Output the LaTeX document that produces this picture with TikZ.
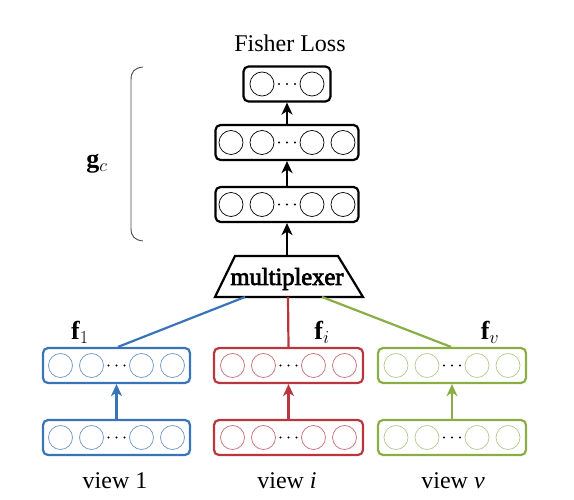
\RequirePackage{fix-cm}
\documentclass[tikz,border=0pt]{standalone}
\usepackage{fontspec}
\setmainfont{Liberation Serif}
\newfontfamily\muxfont[FakeBold=3]{Liberation Serif}
\usetikzlibrary{arrows.meta,calc}
\definecolor{vblue}{RGB}{58,116,184}
\definecolor{vred}{RGB}{184,55,62}
\definecolor{vgreen}{RGB}{138,174,69}
\definecolor{cblue}{RGB}{112,150,200}
\definecolor{cred}{RGB}{200,110,116}
\definecolor{cgreen}{RGB}{182,200,140}
\newcommand{\layerfour}[6]{% name, x, y, width, boxcolor, circlecolor
  \node[layerbox, draw=#5, minimum width=#4pt] (#1) at (#2,#3) {};
  \foreach \dx [count=\k] in {-56,-25,25,56}
    \node[neuron, draw=#6] (#1c\k) at (#2+\dx,#3) {};
  \foreach \dx in {-8,0,8}
    \fill (#2+\dx,#3) circle (1.2pt);
}
\begin{document}
\begin{tikzpicture}[x=1pt,y=-1pt,
  layerbox/.style={draw, line width=2.2pt, rounded corners=5pt, minimum height=35pt, inner sep=0pt},
  neuron/.style={draw, circle, minimum size=24pt, inner sep=0pt, line width=0.7pt},
  arr/.style={line width=2.2pt, -{Stealth[length=12pt,width=11pt,inset=3.5pt]}},
  conn/.style={line width=2.2pt},
  lbl/.style={font=\fontsize{24}{28}\selectfont, inner sep=0pt},
  mlbl/.style={font=\fontsize{26}{30}\selectfont, inner sep=0pt}
]
\useasboundingbox (0,0) rectangle (574,500);

% title
\node[lbl] (title) at (290,43) {Fisher Loss};

% top layer (2 circles)
\node[layerbox, minimum width=87pt] (b1) at (287,84) {};
\node[neuron] (b1c1) at (262,84) {};
\node[neuron] (b1c2) at (312,84) {};
\foreach \dx in {-8,0,8} \fill (287+\dx,84) circle (1.2pt);

% layers 2 and 3
\layerfour{b2}{287}{142.5}{143}{black}{black}
\layerfour{b3}{287}{204.5}{143}{black}{black}

% multiplexer
\draw[line width=2.2pt, line join=miter] (235,256) -- (338,256) -- (363,297) -- (215,297) -- cycle;
\node[lbl, font=\fontsize{24.5}{28}\muxfont] (mux) at (287,279) {multiplexer};
\coordinate (muxT) at (287,256);
\coordinate (muxB1) at (245,297);
\coordinate (muxBi) at (288,297);
\coordinate (muxBv) at (322,297);

\draw[arr] (muxT) -- (b3.south);
\draw[arr] (b3.north) -- (b2.south);
\draw[arr] (b2.north) -- (b1.south);

% brace and g_c
\draw[line width=0.9pt, black!70] (143,67) .. controls (134,68) and (131,72) .. (131,80) -- (131,228) .. controls (131,236) and (134,240) .. (143,241);
\node[mlbl] (gc) at (97,164) {$\mathbf{g}_c$};

% views
\layerfour{u1}{116.5}{365.5}{147}{vblue}{cblue}
\layerfour{ui}{288.5}{365.5}{149}{vred}{cred}
\layerfour{uv}{452}{365.5}{148}{vgreen}{cgreen}
\layerfour{l1}{116.5}{437.5}{147}{vblue}{cblue}
\layerfour{li}{288.5}{437.5}{149}{vred}{cred}
\layerfour{lv}{452}{437.5}{148}{vgreen}{cgreen}

\draw[arr, vblue] (l1.north) -- (u1.south);
\draw[arr, vred] (li.north) -- (ui.south);
\draw[arr, vgreen] (lv.north) -- (uv.south);

\draw[conn, vblue] (muxB1) -- ([xshift=1.5pt]u1.north);
\draw[conn, vred] (muxBi) -- (ui.north);
\draw[conn, vgreen] (muxBv) -- ([xshift=-1pt]uv.north);

\node[mlbl] (f1) at (80,332) {$\mathbf{f}_1$};
\node[mlbl] (fi) at (322,332) {$\mathbf{f}_i$};
\node[mlbl] (fv) at (490,332) {$\mathbf{f}_v$};

\node[lbl] (v1) at (115,481) {view 1};
\node[lbl] (vi) at (287,481) {view \textit{i}};
\node[lbl] (vv) at (453,481) {view \textit{v}};
\end{tikzpicture}
\end{document}
